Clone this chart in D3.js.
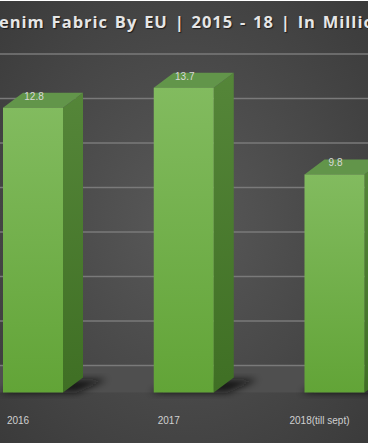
<!DOCTYPE html>
<html>
<head>
<meta charset="utf-8">
<script src="https://cdn.jsdelivr.net/npm/d3@7"></script>
<style>
  html, body { margin: 0; padding: 0; background: #fff; }
  svg { display: block; }
</style>
</head>
<body>
<div id="chart"></div>
<script>
// chart data
const categories = ["2016", "2017", "2018(till sept)"];
const values = [12.8, 13.7, 9.8];
const gridTicks = [0, 2, 4, 6, 8, 10, 12, 14];
const titleText = "Import of Denim Fabric By EU | 2015 - 18 | In Million Meters";

const width = 368, height = 445;
const barW = 60, depthX = 20, depthY = 15; // bar depth (oblique)
const wallY = 27; // back wall sits further back than bar backs

const svg = d3.select("#chart").append("svg")
  .attr("width", width)
  .attr("height", height);

const defs = svg.append("defs");

const bg = defs.append("radialGradient").attr("id", "bg")
  .attr("cx", "50%").attr("cy", "50%").attr("r", "70%");
bg.append("stop").attr("offset", "0%").attr("stop-color", "#595959");
bg.append("stop").attr("offset", "100%").attr("stop-color", "#3b3b3b");

const front = defs.append("linearGradient").attr("id", "front")
  .attr("x1", 0).attr("y1", 0).attr("x2", 0).attr("y2", 1);
front.append("stop").attr("offset", "0%").attr("stop-color", "#82bb5f");
front.append("stop").attr("offset", "100%").attr("stop-color", "#62a437");

const side = defs.append("linearGradient").attr("id", "side")
  .attr("x1", 0).attr("y1", 0).attr("x2", 0).attr("y2", 1);
side.append("stop").attr("offset", "0%").attr("stop-color", "#558639");
side.append("stop").attr("offset", "100%").attr("stop-color", "#3f6f24");

defs.append("filter").attr("id", "blur")
  .attr("x", "-50%").attr("y", "-50%").attr("width", "200%").attr("height", "200%")
  .append("feGaussianBlur").attr("stdDeviation", 3.5);

// background
svg.append("rect")
  .attr("x", 0).attr("y", 1)
  .attr("width", width).attr("height", 442)
  .attr("fill", "url(#bg)");

// scales
const x = d3.scalePoint().domain(categories).range([33, 334.5]);
const y = d3.scaleLinear().domain([0, 14]).range([392.5, 392.5 - 14 * 22.25]);

// floor
svg.append("rect")
  .attr("x", 0).attr("y", y(0) - wallY)
  .attr("width", width).attr("height", wallY)
  .attr("fill", "#4f4f4f");

// back wall gridlines
svg.append("g")
  .selectAll("line")
  .data(gridTicks)
  .join("line")
  .attr("x1", 0).attr("x2", width)
  .attr("y1", d => y(d) - wallY).attr("y2", d => y(d) - wallY)
  .attr("stroke", "#7a7a7a")
  .attr("stroke-width", 1.3);

const bars = svg.append("g")
  .selectAll("g")
  .data(categories.map((c, i) => ({ c, v: values[i] })))
  .join("g");

// floor shadows
bars.append("path")
  .attr("d", d => {
    const l = x(d.c) - barW / 2, r = l + barW, b = y(0);
    return `M${l - 4},${b} L${r + 14},${b} L${r + depthX + 24},${b - depthY + 2} L${l + depthX + 6},${b - depthY + 2} Z`;
  })
  .attr("fill", "#111")
  .attr("opacity", 0.85)
  .attr("filter", "url(#blur)");

// side faces
bars.append("path")
  .attr("d", d => {
    const r = x(d.c) + barW / 2, t = y(d.v), b = y(0);
    return `M${r},${t} L${r + depthX},${t - depthY} L${r + depthX},${b - depthY} L${r},${b} Z`;
  })
  .attr("fill", "url(#side)");

// top faces
bars.append("path")
  .attr("d", d => {
    const l = x(d.c) - barW / 2, r = l + barW, t = y(d.v);
    return `M${l},${t} L${r},${t} L${r + depthX},${t - depthY} L${l + depthX},${t - depthY} Z`;
  })
  .attr("fill", "#62954a");

// front faces
bars.append("rect")
  .attr("x", d => x(d.c) - barW / 2)
  .attr("y", d => y(d.v))
  .attr("width", barW)
  .attr("height", d => y(0) - y(d.v))
  .attr("fill", "url(#front)");

// value labels
bars.append("text")
  .attr("x", d => x(d.c) + 1)
  .attr("y", d => y(d.v) - 8)
  .attr("text-anchor", "middle")
  .attr("font-family", "'Liberation Sans', Arial, sans-serif")
  .attr("font-size", 10)
  .attr("fill", "#d9d9d9")
  .text(d => d.v);

// category labels
svg.append("g")
  .selectAll("text")
  .data(categories)
  .join("text")
  .attr("x", d => x(d) - 15)
  .attr("y", 424)
  .attr("text-anchor", "middle")
  .attr("font-family", "'Liberation Sans', Arial, sans-serif")
  .attr("font-size", 10)
  .attr("fill", "#d0d0d0")
  .text(d => d);

// title, cut off on both sides like the source crop
const title = svg.append("text")
  .attr("y", 28)
  .attr("font-family", "'Open Sans', 'DejaVu Sans', sans-serif")
  .attr("font-weight", "bold")
  .attr("font-size", 16.5)
  .attr("letter-spacing", 1)
  .attr("word-spacing", 1.5)
  .attr("fill", "#e6e6e6")
  .style("text-shadow", "1px 1px 1px rgba(0,0,0,0.6)")
  .text(titleText);

// shift so that the visible part starts at "enim", as in the source crop
const offset = title.node().getSubStringLength(0, titleText.indexOf("enim"));
title.attr("x", -offset - 1);
</script>
</body>
</html>
